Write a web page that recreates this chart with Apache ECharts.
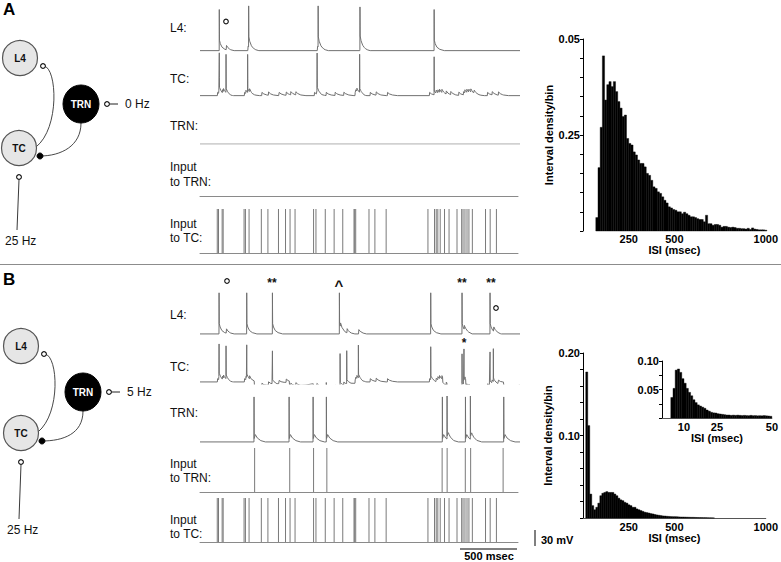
<!DOCTYPE html>
<html><head><meta charset="utf-8">
<script src="https://cdn.jsdelivr.net/npm/echarts@6/dist/echarts.min.js"></script>
<style>html,body{margin:0;padding:0;background:#fff}#c{width:781px;height:562px}</style>
</head><body><div id="c"></div>
<script>
// ================= DATA =================
const timeRange = [0, 2800];                       // ms shown in each trace
// Poisson input to TC (same train in A and B), ms
const inputTC_times = [152,163,195,204,388,400,432,540,598,691,753,793,837,1000,1021,1103,1181,1257,1356,1362,1371,1488,1540,1639,2007,2065,2080,2094,2115,2153,2193,2263,2304,2316,2333,2351,2368,2398,2514,2555,2610];
// Panel A spike times (ms)
const A_L4_spikes = [168,425,1033,1399,2048];
const A_TC_spikes = [168,227,416,1024,1396,2048];
const A_TRN_spikes = [];
const A_inputTRN_times = [];
// Panel B spike times (ms)
const B_L4_spikes = [166,408,633,1219,2018,2292,2537];
const B_TC_spikes = [166,227,408,633,1225,1283,1385,2018,2292,2309,2537,2566];
const B_TRN_spikes = [472,779,989,1105,2120,2161,2322,2365,2657];
const B_inputTRN_times = [481,790,1000,1117,2132,2176,2336,2383,2669];

// ISI histograms
const histA_start = 70, histA_binWidth = 12;
const histA_values = [0.0035,0.0165,0.0270,0.0456,0.0341,0.0381,0.0389,0.0376,0.0389,0.0363,
 0.0337,0.0320,0.0298,0.0302,0.0241,0.0228,0.0224,0.0206,0.0198,0.0185,
 0.0176,0.0176,0.0167,0.0150,0.0145,0.0132,0.0115,0.0111,0.0102,0.0098,
 0.0089,0.0080,0.0073,0.0063,0.0060,0.0056,0.0054,0.0050,0.0050,0.0045,
 0.0049,0.0045,0.0041,0.0037,0.0037,0.0035,0.0032,0.0030,0.0030,0.0024,
 0.0041,0.0019,0.0019,0.0015,0.0017,0.0017,0.0015,0.0010,0.0012,0.0012,
 0.0010,0.0009,0.0010,0.0009,0.0007,0.0007,0.0006,0.0006,0.0005,0.0007,
 0.0004,0.0008,0.0005,0.0004,0.0003,0.0003,0.0003,0.0002];
const histB_start = 15, histB_binWidth = 11;
const histB_values = [0.177,0.112,0.029,0.015,0.010,0.013,0.018,0.027,0.030,0.031,
 0.032,0.031,0.031,0.031,0.029,0.027,0.024,0.022,0.021,0.019,
 0.018,0.016,0.015,0.013,0.013,0.011,0.010,0.009,0.008,0.007,
 0.0065,0.006,0.0053,0.0049,0.0042,0.0037,0.0033,0.0029,0.0025,0.0024,
 0.0021,0.0019,0.0017,0.0016,0.0016,0.0015,0.0013,0.0012,0.0012,0.0011,
 0.0010,0.0009,0.0008,0.0008,0.0007,0.0006,0.0005,0.0005,0.0004,0.0004,
 0.0003,0.0002,0.0002,0.0001];
const insetB_start = 4, insetB_binWidth = 1;
const insetB_values = [0.036,0.052,0.084,0.086,0.080,0.069,0.061,0.052,0.045,0.039,
 0.032,0.027,0.023,0.021,0.019,0.017,0.014,0.012,0.010,0.009,
 0.0087,0.0075,0.007,0.0064,0.0058,0.0052,0.0052,0.0046,0.005,0.0046,
 0.005,0.0046,0.0042,0.0046,0.0042,0.004,0.0046,0.004,0.0042,0.0038,
 0.004,0.0038,0.0042,0.0038,0.0035,0.003];

// axis tick labels
const histA_yTickVals = [0.025, 0.05], histA_yTickText = ['0.25', '0.05'];
const histB_yTickVals = [0.1, 0.2],   histB_yTickText = ['0.10', '0.20'];
const inset_yTickVals = [0.05, 0.1],  inset_yTickText = ['0.05', '0.10'];
const hist_xTicks = [250, 500, 1000];
const inset_xTicks = [10, 25, 50];

// ================= rendering helpers =================
const restV = -65;
const SHAPES = {
  l4Spike:  [[0,0],[0.8,95],[2.5,24],[10,16],[25,8],[50,3],[90,0]],
  l4Epsp:   [[0,0],[3,10],[15,6],[40,2],[70,0]],
  tcSpikeA: [[0,0],[0.8,88],[2.5,9],[15,5],[40,0]],
  tcSpikeB: [[0,0],[0.8,76],[2.5,9],[15,5],[40,0]],
  tcEpsp:   [[0,0],[2,7.5],[18,4],[45,1.5],[90,0]],
  tcIpsp:   [[0,0],[3,-12],[90,-10],[190,-5],[330,0]],
  trnSpike: [[0,0],[0.8,104],[2.5,8],[12,17],[30,9],[60,3],[100,0]]
};
function shapeAt(sh, dt) {
  if (dt <= sh[0][0] || dt >= sh[sh.length-1][0]) return 0;
  for (let i = 1; i < sh.length; i++) {
    if (dt <= sh[i][0]) {
      const [t0,v0] = sh[i-1], [t1,v1] = sh[i];
      return v0 + (v1-v0)*(dt-t0)/(t1-t0);
    }
  }
  return 0;
}
function ev(times, sh, delay) { return times.map(t => [t + (delay||0), sh]); }
function buildTrace(events) {
  const ts = new Set(timeRange);
  events.forEach(([t0, sh]) => sh.forEach(([dt]) => {
    const t = t0 + dt; if (t > timeRange[0] && t < timeRange[1]) ts.add(Math.round(t*100)/100);
  }));
  return Array.from(ts).sort((a,b)=>a-b).map(t => [t, restV + events.reduce((s,[t0,sh]) => s + shapeAt(sh, t - t0), 0)]);
}

const A_L4 = buildTrace([...ev(A_L4_spikes, SHAPES.l4Spike), ...ev(A_TC_spikes.filter(t=>!A_L4_spikes.includes(t)), SHAPES.l4Epsp, 2)]);
const A_TC = buildTrace([...ev(A_TC_spikes, SHAPES.tcSpikeA), ...ev(inputTC_times, SHAPES.tcEpsp), ...ev(A_TRN_spikes, SHAPES.tcIpsp, 2)]);
const A_TRN = buildTrace(ev(A_TRN_spikes, SHAPES.trnSpike));
const B_L4 = buildTrace([...ev(B_L4_spikes, SHAPES.l4Spike), ...ev(B_TC_spikes.filter(t=>!B_L4_spikes.includes(t)), SHAPES.l4Epsp, 2)]);
const B_TC = buildTrace([...ev(B_TC_spikes, SHAPES.tcSpikeB), ...ev(inputTC_times, SHAPES.tcEpsp), ...ev(B_TRN_spikes, SHAPES.tcIpsp, 2)]);
const B_TRN = buildTrace(ev(B_TRN_spikes, SHAPES.trnSpike));

function bins(start, w, vals) { return vals.map((v,i) => [start + i*w, start + (i+1)*w, v]); }

// ================= layout =================
const FONT = "'Liberation Sans', Arial, sans-serif";
const grids = [], xAxes = [], yAxes = [], series = [];
function traceGrid(top, data, color) {
  const i = grids.length;
  grids.push({left: 200, top: top, width: 320, height: 47.6});
  xAxes.push({gridIndex: i, type: 'value', min: timeRange[0], max: timeRange[1], show: false});
  yAxes.push({gridIndex: i, type: 'value', min: -70, max: 40, show: false});
  series.push({type: 'line', xAxisIndex: i, yAxisIndex: i, data: data, showSymbol: false, silent: true,
    lineStyle: {color: color || '#707070', width: 1}, animation: false});
}
function inputGrid(top, times) {
  const i = grids.length;
  grids.push({left: 200, top: top, width: 318, height: 44});
  xAxes.push({gridIndex: i, type: 'value', min: timeRange[0], max: timeRange[1], axisLine: {show: true, lineStyle: {color: '#8a8a8a', width: 1}},
    axisTick: {show: false}, axisLabel: {show: false}, splitLine: {show: false}});
  yAxes.push({gridIndex: i, type: 'value', min: 0, max: 1, show: false});
  series.push({type: 'custom', xAxisIndex: i, yAxisIndex: i, data: times.map(t => [t, 1]), encode: {x: 0, y: 1}, silent: true, animation: false,
    renderItem: (p, api) => {
      const a = api.coord([api.value(0), 0]), b = api.coord([api.value(0), 1]);
      return {type: 'line', shape: {x1: a[0], y1: a[1], x2: b[0], y2: b[1]}, style: {stroke: '#7a7a7a', lineWidth: 1}};
    }});
}
function pickLabel(vals, texts) {
  return v => { const k = vals.findIndex(x => Math.abs(x - v) < 1e-9); return k >= 0 ? texts[k] : ''; };
}
function histGrid(g, xMax, xInt, xTicks, yMax, yInt, yVals, yTexts, data, opts) {
  const i = grids.length;
  grids.push(g);
  xAxes.push({gridIndex: i, type: 'value', min: 0, max: xMax, interval: xInt,
    axisLine: {show: !!opts.xLine, lineStyle: {color: '#555', width: 1}}, axisTick: {show: false}, splitLine: {show: false},
    axisLabel: {margin: opts.lblMargin, fontFamily: FONT, fontWeight: 'bold', fontSize: 11, color: '#000',
      formatter: v => xTicks.includes(v) ? String(v) : ''},
    name: 'ISI (msec)', nameLocation: 'middle', nameGap: opts.nameGap,
    nameTextStyle: {fontFamily: FONT, fontWeight: 'bold', fontSize: 11, color: '#000'}});
  yAxes.push({gridIndex: i, type: 'value', min: 0, max: yMax, interval: yInt,
    axisLine: {show: true, lineStyle: {color: '#000', width: 1}},
    axisTick: {show: true, length: 3, lineStyle: {color: '#000'}}, splitLine: {show: false},
    axisLabel: {margin: 3, fontFamily: FONT, fontWeight: 'bold', fontSize: 11, color: '#000', formatter: pickLabel(yVals, yTexts)},
    name: opts.yName || '', nameLocation: 'middle', nameGap: opts.yGap || 20,
    nameTextStyle: {fontFamily: FONT, fontWeight: 'bold', fontSize: 11, color: '#000'}});
  series.push({type: 'custom', xAxisIndex: i, yAxisIndex: i, data: data, encode: {x: [0, 1], y: 2}, silent: true, animation: false,
    renderItem: (p, api) => {
      const a = api.coord([api.value(0), api.value(2)]), b = api.coord([api.value(1), 0]);
      return {type: 'rect', shape: {x: a[0], y: a[1], width: b[0] - a[0], height: b[1] - a[1]},
        style: {fill: '#000', stroke: '#000', lineWidth: 0.4}};
    }});
}

// Panel A traces
traceGrid(5.2, A_L4);
traceGrid(50.2, A_TC);
traceGrid(98.5, A_TRN, '#b0b0b0');
inputGrid(152, A_inputTRN_times);
inputGrid(209, inputTC_times);
// Panel B traces
traceGrid(288.5, B_L4);
traceGrid(336.5, B_TC);
traceGrid(396.5, B_TRN);
inputGrid(448, B_inputTRN_times);
inputGrid(498, inputTC_times);
// Histograms
histGrid({left: 583, top: 39, width: 187, height: 192}, 1000, 250, hist_xTicks, 0.05, 0.005, histA_yTickVals, histA_yTickText,
  bins(histA_start, histA_binWidth, histA_values), {xLine: false, lblMargin: 2, nameGap: 13, yName: 'Interval density/bin', yGap: 25});
histGrid({left: 583, top: 353, width: 184, height: 165}, 1000, 250, hist_xTicks, 0.2, 0.02, histB_yTickVals, histB_yTickText,
  bins(histB_start, histB_binWidth, histB_values), {xLine: true, lblMargin: 3, nameGap: 13, yName: 'Interval density/bin', yGap: 30});
histGrid({left: 662, top: 361, width: 110, height: 57}, 50, 5, inset_xTicks, 0.1, 0.025, inset_yTickVals, inset_yTickText,
  bins(insetB_start, insetB_binWidth, insetB_values), {xLine: true, lblMargin: 3, nameGap: 14});

// ================= annotations / schematic =================
function txt(text, x, y, size, opts) {
  opts = opts || {};
  return {type: 'text', silent: true, style: {text: text, x: x, y: y, fill: opts.fill || '#111',
    font: (opts.bold ? 'bold ' : '') + size + 'px ' + FONT,
    align: opts.align || 'left', textAlign: opts.align || 'left', verticalAlign: 'middle', textVerticalAlign: 'middle'}};
}
function circ(cx, cy, r, fill, stroke, lw) {
  return {type: 'circle', silent: true, shape: {cx: cx, cy: cy, r: r}, style: {fill: fill, stroke: stroke || '#333', lineWidth: lw || 1}};
}
function seg(x1, y1, x2, y2, c, w) {
  return {type: 'line', silent: true, shape: {x1: x1, y1: y1, x2: x2, y2: y2}, style: {stroke: c || '#222', lineWidth: w || 1}};
}
function bez(x1, y1, c1x, c1y, c2x, c2y, x2, y2) {
  return {type: 'bezierCurve', silent: true, shape: {x1: x1, y1: y1, cpx1: c1x, cpy1: c1y, cpx2: c2x, cpy2: c2y, x2: x2, y2: y2},
    style: {stroke: '#333', lineWidth: 0.9, fill: null}};
}
function schematic(l4c, trnc, tcc, hzText, inBottom) {
  const g = [];
  g.push(bez(l4c[0] + 24, l4c[1] + 8, l4c[0] + 37, l4c[1] + 10, l4c[0] + 40, tcc[1] - 20, tcc[0] + 17, tcc[1] - 1));
  g.push(bez(trnc[0], trnc[1] + 19, trnc[0], trnc[1] + 42, trnc[0] - 20, tcc[1] + 8, tcc[0] + 21, tcc[1] + 8));
  g.push(circ(l4c[0], l4c[1], 17.5, '#e6e6e6', '#555', 1.2));
  g.push(circ(tcc[0], tcc[1], 17.5, '#e6e6e6', '#555', 1.2));
  g.push({type: 'ellipse', silent: true, shape: {cx: trnc[0], cy: trnc[1], rx: 18, ry: 19}, style: {fill: '#000', stroke: '#000'}});
  g.push(txt('L4', l4c[0], l4c[1], 10, {bold: true, align: 'center'}));
  g.push(txt('TC', tcc[0], tcc[1], 10, {bold: true, align: 'center'}));
  g.push(txt('TRN', trnc[0], trnc[1], 10, {bold: true, align: 'center', fill: '#fff'}));
  g.push(circ(l4c[0] + 23, l4c[1] + 8, 2.4, '#fff', '#111', 1.1));
  g.push(circ(tcc[0] + 21, tcc[1] + 8, 3, '#000', '#000', 1));
  g.push(circ(trnc[0] + 26, trnc[1], 2.4, '#fff', '#111', 1.1));
  g.push(seg(trnc[0] + 28.5, trnc[1], trnc[0] + 37, trnc[1], '#222', 1));
  g.push(txt(hzText, trnc[0] + 44, trnc[1], 12));
  g.push(circ(tcc[0], tcc[1] + 29, 2.4, '#fff', '#111', 1.1));
  g.push(seg(tcc[0], tcc[1] + 31.5, tcc[0] - 2, inBottom, '#222', 0.9));
  g.push(txt('25 Hz', tcc[0] - 14, inBottom + 11, 12));
  return g;
}
const labels = ['L4:', 'TC:', 'TRN:', 'Input', 'to TRN:', 'Input', 'to TC:'];
const labelYA = [28, 79, 126, 167, 182, 224, 238];
const labelYB = [315, 367, 413, 464, 478, 520, 534];
const graphics = [];
labels.forEach((l, k) => { graphics.push(txt(l, 170, labelYA[k], 12)); graphics.push(txt(l, 170, labelYB[k], 12)); });
graphics.push(txt('A', 3, 9, 17, {bold: true, fill: '#000'}));
graphics.push(txt('B', 3, 279, 17, {bold: true, fill: '#000'}));
graphics.push(seg(0, 264.5, 781, 264.5, '#8c8c8c', 1));
schematic([20, 58], [81, 104], [19, 148], '0 Hz', 230).forEach(e => graphics.push(e));
schematic([21, 346], [83, 392], [21, 433], '5 Hz', 519).forEach(e => graphics.push(e));
// spike markers
graphics.push(circ(226, 21.5, 2.3, '#fff', '#111', 1.1));
graphics.push(circ(227, 281, 2.3, '#fff', '#111', 1.1));
graphics.push(circ(496, 308, 2.3, '#fff', '#111', 1.1));
graphics.push(txt('**', 272, 283, 12, {bold: true, align: 'center'}));
graphics.push(txt('^', 339, 285, 15, {bold: true, align: 'center'}));
graphics.push(txt('**', 462, 283, 12, {bold: true, align: 'center'}));
graphics.push(txt('**', 491, 283, 12, {bold: true, align: 'center'}));
graphics.push(txt('*', 464, 343, 12, {bold: true, align: 'center'}));
// scale bars
graphics.push(seg(460, 549, 517, 549, '#000', 1));
graphics.push(seg(535, 530, 535, 546, '#000', 1));
graphics.push(txt('500 msec', 489, 556, 11, {bold: true, align: 'center', fill: '#000'}));
graphics.push(txt('30 mV', 541, 540, 11, {bold: true, fill: '#000'}));

const chart = echarts.init(document.getElementById('c'), null, {renderer: 'svg'});
chart.setOption({
  animation: false,
  backgroundColor: '#fff',
  grid: grids, xAxis: xAxes, yAxis: yAxes, series: series,
  graphic: {elements: graphics}
});
</script></body></html>
